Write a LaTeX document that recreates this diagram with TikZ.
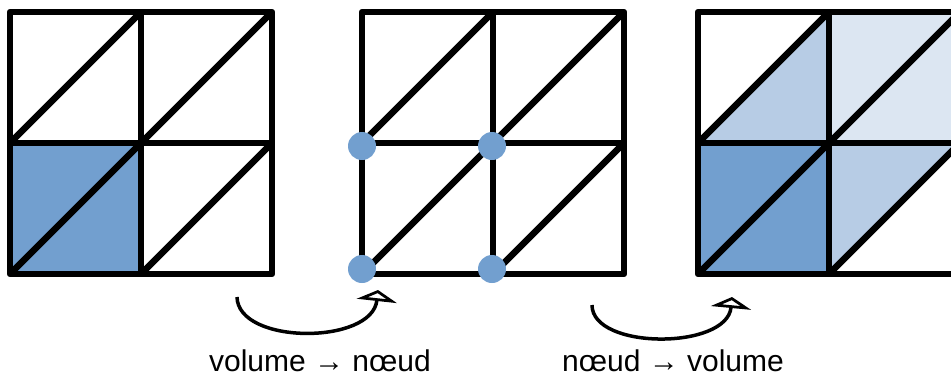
\documentclass[tikz,border=0pt]{standalone}
\usepackage{fontspec}
\setmainfont{Liberation Sans}
\usetikzlibrary{arrows.meta}
\definecolor{bleu}{HTML}{729FCF}
\definecolor{bleuclair}{HTML}{B7CCE5}
\definecolor{bleupale}{HTML}{DCE6F2}
\tikzset{
  trait/.style={line width=6.5pt, line join=round},
  sommet/.style={circle, fill=bleu, minimum size=28pt, inner sep=0pt},
  fleche/.style={line width=3.5pt, -{Triangle[open, length=11pt, width=40pt]}},
  legende/.style={font=\fontsize{30}{36}\selectfont, anchor=base}
}
% grille 2x2 avec diagonales, coin haut gauche en (#1,12)
\newcommand{\grille}[1]{
  \draw[trait] (#1,12) rectangle ++(262,262);
  \draw[trait] (#1+131,12) -- ++(0,262);
  \draw[trait] (#1,143) -- ++(262,0);
  \draw[trait] (#1,274) -- ++(262,-262);
  \draw[trait] (#1,143) -- ++(131,-131);
  \draw[trait] (#1+131,274) -- ++(131,-131);
}
\begin{document}
\begin{tikzpicture}[x=1pt,y=-1pt]
\clip (0,0) rectangle (951,376);
% volumes
\fill[bleu] (10,143) rectangle (141,274);
\grille{10}
% noeuds
\grille{362}
\node[sommet] (n1) at (362,146) {};
\node[sommet] (n2) at (492,146) {};
\node[sommet] (n3) at (362,269) {};
\node[sommet] (n4) at (492,269) {};
% volumes voisins
\fill[bleu] (698,143) rectangle (829,274);
\fill[bleuclair] (698,143) -- (829,12) -- (829,143) -- cycle;
\fill[bleupale] (829,12) rectangle (960,143);
\fill[bleuclair] (829,274) -- (829,143) -- (960,143) -- cycle;
\grille{698}
% fleches
\coordinate (d1) at (237,297);
\coordinate (a1) at (378,290);
\draw[fleche] (d1) .. controls (238,345) and (372,345) .. (a1);
\coordinate (d2) at (592,305);
\coordinate (a2) at (732,297);
\draw[fleche] (d2) .. controls (592,350) and (727,350) .. (a2);
\node[legende] (vn) at (320,371) {volume → nœud};
\node[legende] (nv) at (673,371) {nœud → volume};
\end{tikzpicture}
\end{document}
